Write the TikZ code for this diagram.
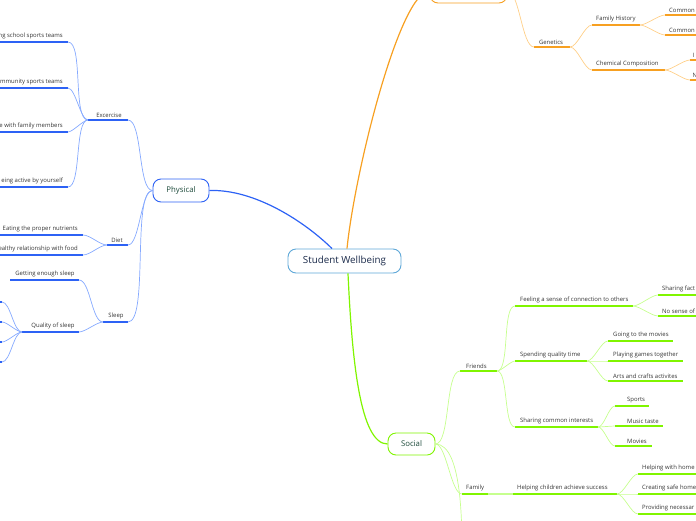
\documentclass[tikz,border=0pt]{standalone}
\usepackage{fontspec}
\setmainfont{Open Sans}
\definecolor{txt}{HTML}{333333}
\definecolor{bMain}{HTML}{2D62F5}
\definecolor{bLight}{HTML}{85A9FF}
\definecolor{oMain}{HTML}{F7A021}
\definecolor{oLight}{HTML}{FFCF88}
\definecolor{gMain}{HTML}{80F500}
\definecolor{gLight}{HTML}{C6FF8E}
\definecolor{cBorder}{HTML}{5FA8D8}
\definecolor{nodeTxt}{HTML}{1C4A3A}
\definecolor{cTxt}{HTML}{1A2A4A}
\tikzset{
  lbl/.style={font=\fontsize{5.95}{6.5}\selectfont, text=txt, inner sep=0pt, anchor=south},
  lblw/.style={lbl, anchor=south west},
  lble/.style={lbl, anchor=south east},
  bund/.style={draw=bMain, line width=1.5pt},
  bcur/.style={draw=bLight, line width=0.7pt},
  ound/.style={draw=oMain, line width=1.5pt},
  ocur/.style={draw=oLight, line width=0.7pt},
  gund/.style={draw=gMain, line width=1.5pt},
  gcur/.style={draw=gLight, line width=0.7pt},
  mainnode/.style={rounded corners=8pt, fill=white, line width=0.9pt, inner sep=0pt, text=nodeTxt, font=\fontsize{7.8}{9}\selectfont},
}
\begin{document}
\begin{tikzpicture}[x=1pt,y=-1pt]
\useasboundingbox (0,0) rectangle (696,520);
\clip (0,0) rectangle (696,520);

% ---------- main nodes ----------
\node[mainnode, draw=cBorder, minimum width=113pt, minimum height=24pt, text=cTxt, font=\fontsize{9.8}{11}\selectfont] (sw) at (344.5,261) {Student Wellbeing};
\node[mainnode, draw=bMain, minimum width=56pt, minimum height=23pt] (phys) at (181,190.5) {Physical};
\node[mainnode, draw=gMain, minimum width=47pt, minimum height=22pt] (soc) at (411.5,444) {Social};
\node[mainnode, draw=oMain, minimum width=77pt, minimum height=24pt] (topo) at (468.5,-9) {};

% main connectors
\draw[draw=bMain, line width=1.2pt] ([xshift=-12.5pt]sw.north) .. controls (305,222) and (255,189) .. (phys.east);
\draw[draw=oMain, line width=1.2pt] ([xshift=2.5pt]sw.north) .. controls (355,170) and (400,-9) .. (topo.west);
\draw[draw=gMain, line width=1.2pt] ([xshift=3.5pt]sw.south) .. controls (352,360) and (360,444) .. (soc.west);

% ---------- Physical ----------
\coordinate (exL) at (88,120); \coordinate (exR) at (128,120);
\coordinate (diL) at (107,245); \coordinate (diR) at (128,245);
\coordinate (slL) at (103,322); \coordinate (slR) at (128,322);
\draw[bund] (exL) -- (exR); \node[lbl] (ex) at (109,117.5) {Excercise};
\draw[bund] (diL) -- (diR); \node[lbl] (di) at (117,242.5) {Diet};
\draw[bund] (slL) -- (slR); \node[lbl] (sl) at (116,319.5) {Sleep};
\draw[bcur] (phys.west) to[out=180,in=0,looseness=0.5] (exR);
\draw[bcur] (phys.west) to[out=180,in=0,looseness=0.5] (diR);
\draw[bcur] (phys.west) to[out=180,in=0,looseness=0.4] (slR);

% Excercise children
\foreach \n/\y/\t in {e1/42/ng school sports teams, e2/88/ommunity sports teams, e3/132/e with family members, e4/187/eing active by yourself}{
  \coordinate (\n R) at (68,\y);
  \draw[bund] (-5,\y) -- (\n R);
  \node[lble] (\n) at (63,\y-2.5) {\t};
  \draw[bcur] (exL) to[out=180,in=0,looseness=0.5] (\n R);
}
% Diet children
\foreach \n/\y/\t in {d1/235/Eating the proper nutrients, d2/255/ealthy relationship with food}{
  \coordinate (\n R) at (83,\y);
  \draw[bund] (-5,\y) -- (\n R);
  \node[lble] (\n) at (78,\y-2.5) {\t};
  \draw[bcur] (diL) to[out=180,in=0,looseness=0.7] (\n R);
}
% Sleep children
\coordinate (s1R) at (79,280); \coordinate (s1L) at (10,280);
\coordinate (s2R) at (79,332); \coordinate (s2L) at (22,332);
\draw[bund] (s1L) -- (s1R); \node[lbl] (s1) at (45,277.5) {Getting enough sleep};
\draw[bund] (s2L) -- (s2R); \node[lbl] (s2) at (53,329.5) {Quality of sleep};
\draw[bcur] (slL) to[out=180,in=0,looseness=0.6] (s1R);
\draw[bcur] (slL) to[out=180,in=0,looseness=0.6] (s2R);
\foreach \n/\y in {q1/302, q2/322, q3/342, q4/362}{
  \coordinate (\n R) at (2,\y);
  \draw[bund] (-10,\y) -- (\n R);
  \draw[bcur] (s2L) to[out=180,in=0,looseness=0.6] (\n R);
}

% ---------- Orange ----------
\coordinate (geL) at (534,47); \coordinate (geR) at (570,47);
\draw[ound] (geL) -- (geR); \node[lbl] (ge) at (551,44.5) {Genetics};
\draw[ocur] (topo.east) to[out=0,in=180,looseness=0.5] (geL);
\coordinate (fhL) at (592,25); \coordinate (fhR) at (640,25);
\coordinate (ccL) at (592,70); \coordinate (ccR) at (665,70);
\draw[ound] (fhL) -- (fhR); \node[lblw] (fh) at (596,22.5) {Family History};
\draw[ound] (ccL) -- (ccR); \node[lblw] (cc) at (596,67.5) {Chemical Composition};
\draw[ocur] (geR) to[out=0,in=180,looseness=0.6] (fhL);
\draw[ocur] (geR) to[out=0,in=180,looseness=0.6] (ccL);
\foreach \n/\y/\t in {f1/15/Common, f2/35/Common}{
  \coordinate (\n L) at (665,\y);
  \draw[ound] (\n L) -- (705,\y);
  \node[lblw] (\n) at (669,\y-2.5) {\t};
  \draw[ocur] (fhR) to[out=0,in=180,looseness=0.6] (\n L);
}
\foreach \n/\y/\t in {c1/60/I, c2/80/N}{
  \coordinate (\n L) at (690,\y);
  \draw[ound] (\n L) -- (705,\y);
  \node[lblw] (\n) at (692.5,\y-2.5) {\t};
  \draw[ocur] (ccR) to[out=0,in=180,looseness=0.6] (\n L);
}

% ---------- Green ----------
\coordinate (frL) at (460,371); \coordinate (frR) at (497,371);
\coordinate (faL) at (462,494); \coordinate (faR) at (488,494);
\coordinate (soff) at (462,560);
\draw[gund] (frL) -- (frR); \node[lblw] (fr) at (466,368.5) {Friends};
\draw[gund] (faL) -- (faR); \node[lblw] (fa) at (466,491.5) {Family};
\draw[gcur] (soc.east) to[out=0,in=180,looseness=0.5] (frL);
\draw[gcur] (soc.east) to[out=0,in=180,looseness=0.5] (faL);
\draw[gcur] (soc.east) to[out=0,in=90,looseness=0.6] (soff);

\coordinate (feL) at (515,306); \coordinate (feR) at (633,306);
\coordinate (spL) at (515,361); \coordinate (spR) at (587,361);
\coordinate (shL) at (515,427); \coordinate (shR) at (598,427);
\draw[gund] (feL) -- (feR); \node[lblw] (fe) at (520,303.5) {Feeling a sense of connection to others};
\draw[gund] (spL) -- (spR); \node[lblw] (sp) at (520,358.5) {Spending quality time};
\draw[gund] (shL) -- (shR); \node[lblw] (sh) at (520,424.5) {Sharing common interests};
\draw[gcur] (frR) to[out=0,in=180,looseness=0.5] (feL);
\draw[gcur] (frR) to[out=0,in=180,looseness=0.5] (spL);
\draw[gcur] (frR) to[out=0,in=180,looseness=0.5] (shL);

\foreach \n/\y/\t in {fe1/295/Sharing fact, fe2/316/No sense of}{
  \coordinate (\n L) at (658,\y);
  \draw[gund] (\n L) -- (705,\y);
  \node[lblw] (\n) at (662,\y-2.5) {\t};
  \draw[gcur] (feR) to[out=0,in=180,looseness=0.6] (\n L);
}
\foreach \n/\y/\e/\t in {sp1/341/673/Going to the movies, sp2/361/683/Playing games together, sp3/381/683/Arts and crafts activites}{
  \coordinate (\n L) at (608,\y);
  \draw[gund] (\n L) -- (\e,\y);
  \node[lblw] (\n) at (613,\y-2.5) {\t};
  \draw[gcur] (spR) to[out=0,in=180,looseness=0.6] (\n L);
}
\foreach \n/\y/\e/\t in {sh1/406/649/Sports, sh2/426/663/Music taste, sh3/446/652/Movies}{
  \coordinate (\n L) at (615,\y);
  \draw[gund] (\n L) -- (\e,\y);
  \node[lblw] (\n) at (627,\y-2.5) {\t};
  \draw[gcur] (shR) to[out=0,in=180,looseness=0.6] (\n L);
}

\coordinate (heL) at (513,494); \coordinate (heR) at (617,494);
\draw[gcur, line width=1.2pt] (faR) -- (heL);
\draw[gund] (heL) -- (heR); \node[lblw] (he) at (517,491.5) {Helping children achieve success};
\foreach \n/\y/\t in {h1/474/Helping with home, h2/494/Creating safe home, h3/514/Providing necessar}{
  \coordinate (\n L) at (638,\y);
  \draw[gund] (\n L) -- (705,\y);
  \node[lblw] (\n) at (642,\y-2.5) {\t};
  \draw[gcur] (heR) to[out=0,in=180,looseness=0.6] (\n L);
}
\end{tikzpicture}
\end{document}
